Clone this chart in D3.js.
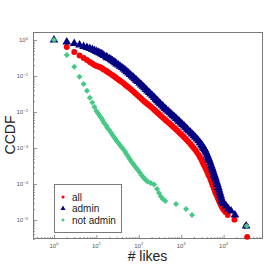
<!DOCTYPE html>
<html><head><meta charset="utf-8">
<script src="https://cdn.jsdelivr.net/npm/d3@7"></script>
<style>body{margin:0;background:#fff}svg{display:block}</style>
</head><body>
<svg id="c" width="280" height="280"></svg>
<script>
// ---- data ----
const allLikes = [2,3,4,5,6,7,8,9,10,11,12,13,14,15,17,18,20,22,24,26,28,30,33,36,40,44,48,52,57,62,68,74,80,87,95,105,115,125,135,147,160,175,190,210,230,250,270,295,320,350,380,415,450,495,540,590,640,700,760,830,900,980,1070,1170,1270,1380,1500,1650,1800,1970,2150,2350,2550,2770,3000,3150,3300,3450,3600,3750,3900,4100,4300,4450,4600,4850,5100,5300,5500,5750,6000,6250,6500,6850,7200,7500,7800,8150,8500,8850,9200,9600,10000,11000,12500,18000,34000,36000];
const allCcdf = [0.639,0.464,0.371,0.316,0.278,0.245,0.222,0.202,0.190,0.184,0.178,0.169,0.1605,0.150,0.1403,0.1308,0.1220,0.1130,0.1046,0.0981,0.0920,0.0860,0.0804,0.0740,0.0681,0.0625,0.0573,0.0529,0.0489,0.0447,0.0408,0.0375,0.0344,0.0314,0.0286,0.0258,0.0233,0.0214,0.0197,0.0181,0.0167,0.0154,0.0142,0.01282,0.01158,0.01063,0.00975,0.00891,0.00815,0.00743,0.00677,0.00619,0.00566,0.00516,0.00470,0.00429,0.00391,0.00358,0.00327,0.00298,0.00271,0.00245,0.00222,0.00200,0.00181,0.00163,0.00146,0.00129,0.00114,0.00100,0.000886,0.000762,0.000656,0.000555,0.000470,0.000419,0.000373,0.000337,0.000304,0.000276,0.000251,0.000220,0.000193,0.000177,0.000163,0.000140,0.000120,0.000106,0.0000944,0.0000823,0.0000717,0.0000631,0.0000555,0.0000487,0.0000427,0.0000379,0.0000337,0.0000304,0.0000275,0.0000250,0.0000227,0.0000209,0.0000193,0.0000167,0.0000138,0.0000102,0.0000068,0.0000034];

const adminLikes = [1,2,3,4,5,6,7,8,9,10,11,12,13,14,15,17,18,20,22,24,26,28,30,33,36,40,44,48,52,57,62,68,74,80,87,95,105,115,125,135,147,160,175,190,210,230,250,270,295,320,350,380,415,450,495,540,590,640,700,760,830,900,980,1070,1170,1270,1380,1500,1650,1800,1970,2150,2350,2550,2770,3000,3150,3300,3450,3600,3750,3900,4100,4300,4450,4600,4850,5100,5300,5500,5750,6000,6250,6500,6850,7200,7500,7800,8150,8500,8850,9200,9600,10000,11500,13000,15000,18500,34000];
const adminCcdf = [1,0.880,0.799,0.726,0.660,0.619,0.581,0.545,0.511,0.479,0.456,0.435,0.415,0.396,0.369,0.344,0.324,0.306,0.285,0.266,0.249,0.233,0.217,0.203,0.187,0.172,0.157,0.144,0.132,0.121,0.110,0.100,0.0917,0.0841,0.0767,0.0699,0.0629,0.0566,0.0516,0.0470,0.0424,0.0383,0.0347,0.0314,0.0281,0.0251,0.0228,0.0207,0.0188,0.0170,0.01535,0.01386,0.01259,0.01143,0.01042,0.0095,0.00866,0.00789,0.00722,0.00660,0.00601,0.00548,0.00497,0.00450,0.00407,0.00369,0.00334,0.00302,0.00272,0.00245,0.00220,0.00198,0.00177,0.00159,0.00140,0.00124,0.00114,0.00105,0.000970,0.000897,0.000807,0.000726,0.000633,0.000552,0.000498,0.000450,0.000382,0.000324,0.000283,0.000248,0.000212,0.000182,0.000158,0.000137,0.000114,0.0000950,0.0000804,0.0000681,0.0000569,0.0000476,0.0000403,0.0000341,0.0000313,0.0000287,0.0000245,0.0000202,0.0000178,0.0000138,0.0000068];

const notAdminLikes = [1,2,3,4,5,6,7,8,9,10,11,12,13,14,15,17,18,20,22,24,26,28,30,33,36,40,44,48,52,57,62,68,74,80,87,95,105,115,125,135,147,160,190,230,270,300,330,370,420,755,1300,1800,35000];
const notAdminCcdf = [1,0.383,0.181,0.0956,0.0599,0.0391,0.0249,0.0184,0.01377,0.01066,0.00908,0.00774,0.00681,0.00600,0.00503,0.00422,0.00365,0.00316,0.00270,0.00230,0.00202,0.00178,0.00157,0.00138,0.00119,0.00103,0.000893,0.000774,0.000660,0.000562,0.000479,0.000408,0.000359,0.000316,0.000278,0.000245,0.000209,0.000178,0.000159,0.000142,0.000129,0.000117,0.000107,0.0000969,0.0000726,0.0000562,0.0000450,0.0000383,0.0000337,0.0000278,0.0000202,0.0000138,0.0000068];

const seriesNames = ["all","admin","not admin"];
const xTickExps = [0,1,2,3,4];
const yTickExps = [0,-1,-2,-3,-4,-5];
const xTitle = "# likes", yTitle = "CCDF";

// ---- layout ----
const L=33,T=32,R=263,B=239;
const svg=d3.select("#c");
const x=d3.scaleLog().domain([Math.pow(10,-0.495),Math.pow(10,4.929)]).range([L,R]);
const y=d3.scaleLog().domain([Math.pow(10,-5.528),Math.pow(10,0.222)]).range([B,T]);
const grey="#7a7a7a";

function minors(scale){
  const [a,b]=scale.domain().map(Math.log10);
  const out=[];
  for(let e=Math.floor(a);e<=Math.ceil(b);e++){
    for(let k=2;k<=9;k++){const v=k*Math.pow(10,e); const lv=Math.log10(v); if(lv>a&&lv<b) out.push(v);}
  }
  return out;
}
// ticks (inward)
const gx=svg.append("g").attr("transform",`translate(0,${B})`);
gx.call(d3.axisBottom(x).tickValues(xTickExps.map(e=>Math.pow(10,e))).tickSizeInner(-4).tickSizeOuter(0).tickFormat(""));
const gxm=svg.append("g").attr("transform",`translate(0,${B})`);
gxm.call(d3.axisBottom(x).tickValues(minors(x)).tickSizeInner(-2).tickSizeOuter(0).tickFormat(""));
const gy=svg.append("g").attr("transform",`translate(${L},0)`);
gy.call(d3.axisLeft(y).tickValues(yTickExps.map(e=>Math.pow(10,e))).tickSizeInner(-4).tickSizeOuter(0).tickFormat(""));
const gym=svg.append("g").attr("transform",`translate(${L},0)`);
gym.call(d3.axisLeft(y).tickValues(minors(y)).tickSizeInner(-2).tickSizeOuter(0).tickFormat(""));
svg.selectAll(".domain").remove();
svg.selectAll(".tick line").attr("stroke",grey).attr("stroke-width",0.8);

// frame
svg.append("rect").attr("x",L+0.5).attr("y",T+0.5).attr("width",R-L-1).attr("height",B-T-1)
  .attr("fill","none").attr("stroke",grey).attr("stroke-width",1);

// tick labels
function sup(sel,e){
  sel.append("tspan").text("10");
  sel.append("tspan").attr("dy",-2.6).attr("font-size",4.2).text(e<0?"\u2212"+(-e):String(e));
}
svg.append("g").selectAll("text").data(xTickExps).join("text")
  .attr("x",e=>x(Math.pow(10,e))).attr("y",248).attr("text-anchor","middle")
  .attr("font-family","Liberation Sans, Arial, sans-serif").attr("font-size",6).attr("fill","#555")
  .each(function(e){sup(d3.select(this),e);});
svg.append("g").selectAll("text").data(yTickExps).join("text")
  .attr("x",28).attr("y",e=>y(Math.pow(10,e))+2.2).attr("text-anchor","end")
  .attr("font-family","Liberation Sans, Arial, sans-serif").attr("font-size",6).attr("fill","#555")
  .each(function(e){sup(d3.select(this),e);});

// titles
svg.append("text").attr("x",147.5).attr("y",261).attr("text-anchor","middle")
  .attr("font-family","Liberation Sans, Arial, sans-serif").attr("font-size",14).attr("fill","#222").text(xTitle);
svg.append("text").attr("transform","translate(15,135) rotate(-90)").attr("text-anchor","middle")
  .attr("font-family","Liberation Sans, Arial, sans-serif").attr("font-size",14).attr("fill","#222").text(yTitle);

// marks
const colors=["#ff0000","#000080","#46c985"];
const symCircle=d3.symbol().type(d3.symbolCircle).size(27);
const symTri=d3.symbol().type(d3.symbolTriangle).size(33);
const symDia=d3.symbol().type(d3.symbolSquare).size(18);
const plot=svg.append("g");
function draw(xs,ys,sym,col,rot){
  plot.append("g").selectAll("path").data(xs.map((v,i)=>[v,ys[i]])).join("path")
    .attr("d",sym).attr("fill",col)
    .attr("transform",d=>`translate(${x(d[0])},${y(d[1])})`+(rot?" rotate(45)":""));
}
draw(allLikes,allCcdf,symCircle,colors[0],false);
draw(adminLikes,adminCcdf,symTri,colors[1],false);
draw(notAdminLikes,notAdminCcdf,symDia,colors[2],true);

// legend
const lg=svg.append("g");
lg.append("rect").attr("x",54.5).attr("y",184.5).attr("width",67).attr("height",48)
  .attr("fill","#fff").attr("stroke",grey).attr("stroke-width",1);
const lsyms=[d3.symbol().type(d3.symbolCircle).size(8),d3.symbol().type(d3.symbolTriangle).size(11),d3.symbol().type(d3.symbolSquare).size(7)];
const rowsY=[197,208.5,220];
seriesNames.forEach((n,i)=>{
  lg.append("path").attr("d",lsyms[i]).attr("fill",colors[i])
    .attr("transform",`translate(63,${rowsY[i]})`+(i===2?" rotate(45)":""));
  lg.append("text").attr("x",72).attr("y",rowsY[i]+3.5).attr("font-family","Liberation Sans, Arial, sans-serif")
    .attr("font-size",10).attr("fill","#222").text(n);
});
</script>
</body></html>
